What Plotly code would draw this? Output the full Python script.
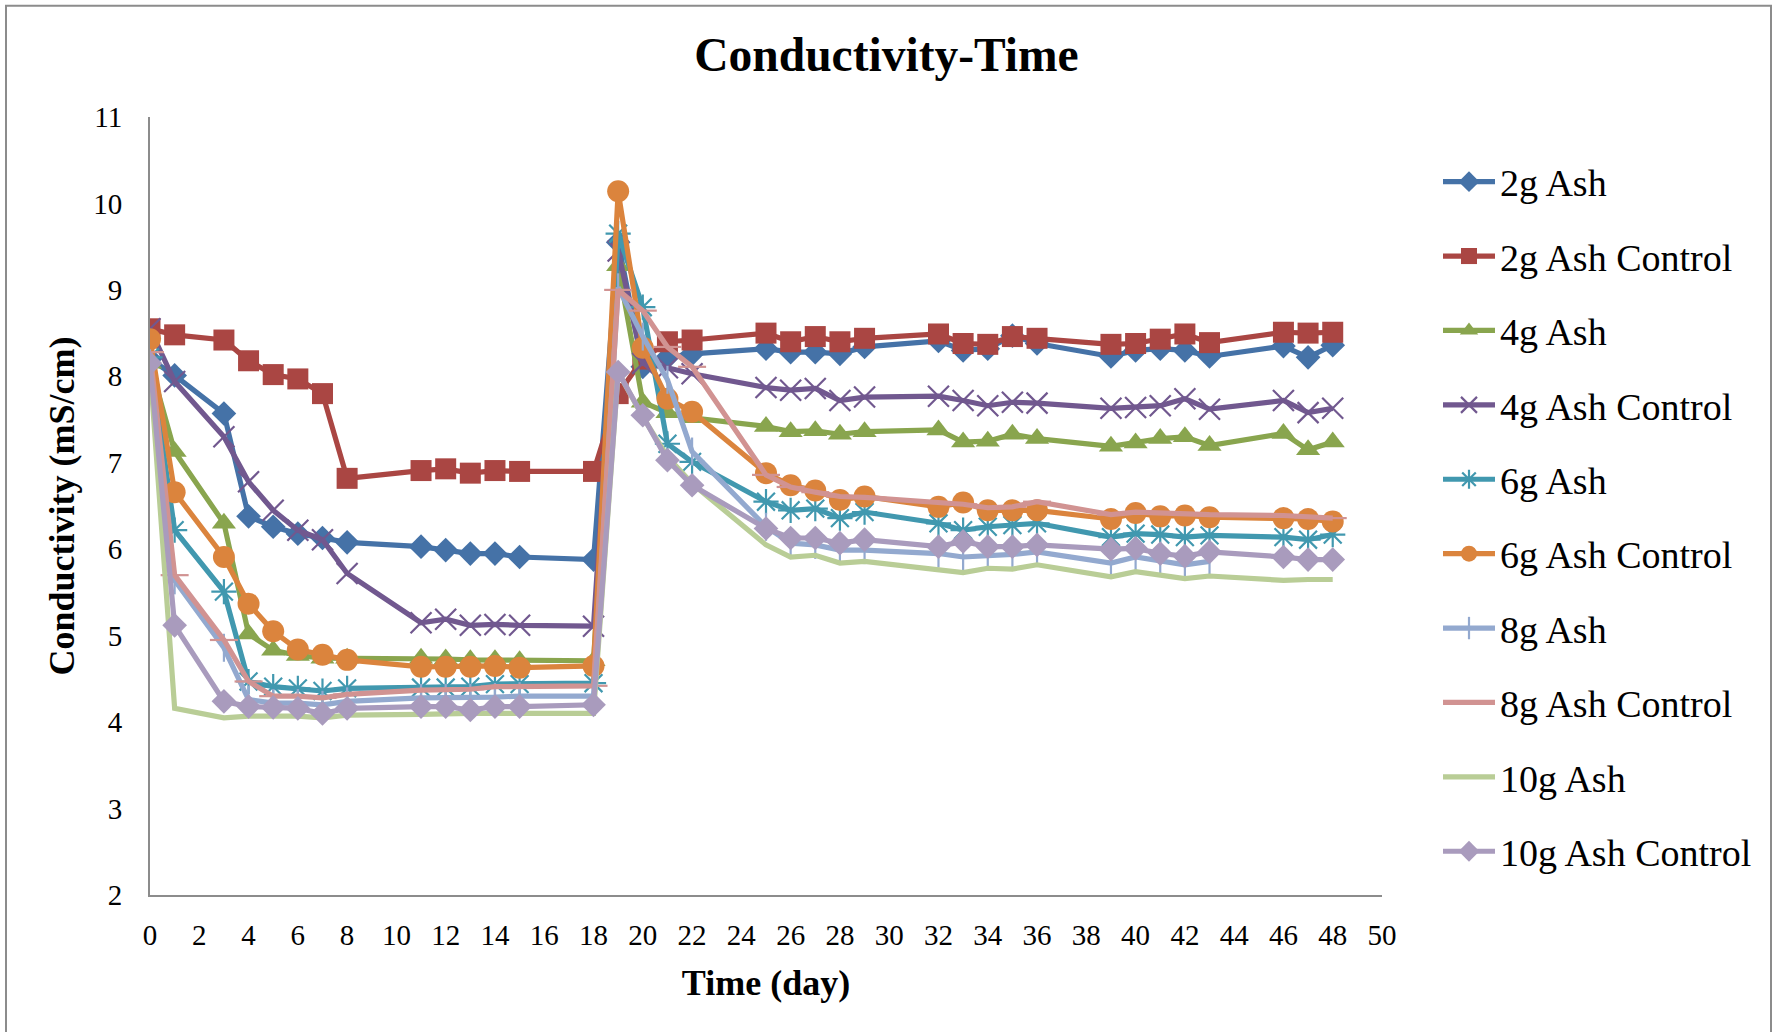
import plotly.graph_objects as go

# Sampling days (day of measurement)
days = [0, 1, 3, 4, 5, 6, 7, 8, 11, 12, 13, 14, 15, 18, 19, 20, 21, 22,
        25, 26, 27, 28, 29, 32, 33, 34, 35, 36, 39, 40, 41, 42, 43, 46, 47, 48]
days_8g_ash = days[:33]  # 8g Ash series stops at day 43

# Conductivity readings (mS/cm)
ash_2g = [8.20, 8.01, 7.57, 6.38, 6.26, 6.18, 6.13, 6.08, 6.03, 5.99, 5.95, 5.95, 5.91, 5.88,
          9.55, 8.11, 8.22, 8.26, 8.32, 8.28, 8.28, 8.26, 8.34, 8.41, 8.30, 8.32, 8.47, 8.38,
          8.23, 8.30, 8.32, 8.30, 8.23, 8.35, 8.22, 8.36]
ash_2g_control = [8.55, 8.48, 8.42, 8.18, 8.02, 7.97, 7.80, 6.82, 6.91, 6.93, 6.88, 6.91, 6.90, 6.90,
                  7.80, 8.20, 8.40, 8.42, 8.50, 8.40, 8.46, 8.40, 8.44, 8.49, 8.38, 8.37, 8.46, 8.44,
                  8.37, 8.38, 8.43, 8.49, 8.39, 8.51, 8.50, 8.51]
ash_4g = [8.15, 7.13, 6.30, 5.02, 4.83, 4.77, 4.74, 4.74, 4.74, 4.73, 4.72, 4.72, 4.71, 4.71,
          9.28, 7.70, 7.58, 7.52, 7.42, 7.36, 7.37, 7.33, 7.36, 7.38, 7.24, 7.25, 7.33, 7.28,
          7.19, 7.23, 7.28, 7.30, 7.20, 7.34, 7.15, 7.24]
ash_4g_control = [8.55, 7.94, 7.30, 6.78, 6.45, 6.22, 6.11, 5.72, 5.15, 5.19, 5.12, 5.13, 5.12, 5.11,
                  9.45, 8.15, 8.10, 8.03, 7.87, 7.84, 7.86, 7.72, 7.76, 7.77, 7.72, 7.66, 7.70, 7.69,
                  7.63, 7.64, 7.66, 7.74, 7.62, 7.72, 7.58, 7.63]
ash_6g = [8.22, 6.22, 5.51, 4.47, 4.41, 4.39, 4.36, 4.39, 4.40, 4.40, 4.41, 4.44, 4.44, 4.45,
          9.65, 8.80, 7.22, 7.01, 6.55, 6.45, 6.47, 6.36, 6.43, 6.30, 6.22, 6.26, 6.28, 6.30,
          6.14, 6.18, 6.17, 6.14, 6.16, 6.14, 6.11, 6.17]
ash_6g_control = [8.43, 6.66, 5.91, 5.37, 5.05, 4.84, 4.78, 4.72, 4.64, 4.64, 4.64, 4.65, 4.63, 4.65,
                  10.14, 8.33, 7.74, 7.59, 6.88, 6.74, 6.68, 6.57, 6.61, 6.49, 6.54, 6.45, 6.45, 6.45,
                  6.35, 6.42, 6.38, 6.39, 6.37, 6.36, 6.35, 6.32]
ash_8g = [8.15, 5.64, 4.86, 4.26, 4.22, 4.22, 4.20, 4.24, 4.28, 4.28, 4.28, 4.29, 4.30, 4.30,
          9.03, 8.46, 7.96, 7.13, 6.26, 6.07, 6.05, 5.99, 5.99, 5.95, 5.91, 5.92, 5.94, 5.97,
          5.84, 5.91, 5.86, 5.82, 5.86]
ash_8g_control = [8.28, 5.70, 4.95, 4.47, 4.30, 4.30, 4.28, 4.32, 4.37, 4.37, 4.38, 4.41, 4.41, 4.42,
                  9.00, 8.76, 8.34, 8.11, 6.86, 6.72, 6.66, 6.61, 6.60, 6.54, 6.52, 6.48, 6.49, 6.55,
                  6.40, 6.43, 6.42, 6.41, 6.40, 6.39, 6.37, 6.36]
ash_10g = [8.10, 4.16, 4.05, 4.07, 4.07, 4.07, 4.05, 4.08, 4.09, 4.10, 4.10, 4.10, 4.10, 4.10,
           8.05, 7.53, 7.07, 6.76, 6.05, 5.91, 5.93, 5.84, 5.86, 5.77, 5.73, 5.78, 5.77, 5.82,
           5.68, 5.74, 5.70, 5.66, 5.69, 5.64, 5.65, 5.65]
ash_10g_control = [8.15, 5.12, 4.24, 4.18, 4.17, 4.16, 4.10, 4.16, 4.18, 4.18, 4.14, 4.18, 4.18, 4.20,
                   8.05, 7.55, 7.03, 6.74, 6.24, 6.13, 6.13, 6.07, 6.11, 6.03, 6.09, 6.03, 6.03, 6.05,
                   6.00, 6.01, 5.95, 5.92, 5.97, 5.91, 5.88, 5.88]

x_ticks = list(range(0, 51, 2))
y_ticks = list(range(2, 12))

FONT = "Liberation Serif, Times New Roman, serif"

# name, x, y, colour, marker symbol, marker size, marker outline width
series = [
    ("2g Ash", days, ash_2g, "#4572A7", "diamond", 19, 0),
    ("2g Ash Control", days, ash_2g_control, "#AA4643", "square", 21, 0),
    ("4g Ash", days, ash_4g, "#89A54E", "triangle-up", 21, 0),
    ("4g Ash Control", days, ash_4g_control, "#71588F", "x-thin-open", 21, 2.2),
    ("6g Ash", days, ash_6g, "#4198AF", "asterisk-open", 21, 2.2),
    ("6g Ash Control", days, ash_6g_control, "#DB843D", "circle", 22, 0),
    ("8g Ash", days_8g_ash, ash_8g, "#93A9CF", "line-ns-open", 20, 2.2),
    ("8g Ash Control", days, ash_8g_control, "#D19392", "line-ew-open", 20, 2.2),
    ("10g Ash", days, ash_10g, "#B9CD96", None, 0, 0),
    ("10g Ash Control", days, ash_10g_control, "#A99BBD", "diamond", 19, 0),
]

fig = go.Figure()
for name, xs, ys, color, symbol, size, lw in series:
    if symbol is None:
        mode = "lines"
        marker = dict()
    else:
        mode = "lines+markers"
        marker = dict(symbol=symbol, size=size, color=color,
                      line=dict(color=color, width=lw))
    fig.add_trace(go.Scatter(
        x=xs, y=ys, name=name, mode=mode,
        line=dict(color=color, width=5.2),
        marker=marker, legendgroup=name,
    ))

W, H = 1773, 1032
L, R, T, B = 150, 391, 116.5, 136.5
pw, ph = W - L - R, H - T - B

fig.update_layout(
    width=W, height=H,
    margin=dict(l=L, r=R, t=T, b=B),
    paper_bgcolor="white", plot_bgcolor="white",
    font=dict(family=FONT, color="black"),
    title=dict(text="<b>Conductivity-Time</b>", x=0.5, xref="container",
               y=1 - 54 / H, yref="container", yanchor="middle",
               font=dict(family=FONT, size=47.5, color="black")),
    xaxis=dict(range=[0, 50], tickvals=x_ticks, showgrid=False, zeroline=False,
               showline=True, linecolor="#8c8c8c", linewidth=2, ticks="",
               ticklabelstandoff=13,
               tickfont=dict(family=FONT, size=29, color="black"),
               title=dict(text="<b>Time (day)</b>", standoff=20,
                          font=dict(family=FONT, size=36, color="black"))),
    yaxis=dict(range=[2, 11], tickvals=y_ticks, showgrid=False, zeroline=False,
               showline=True, linecolor="#8c8c8c", linewidth=2, ticks="",
               ticklabelstandoff=20,
               tickfont=dict(family=FONT, size=29, color="black"),
               title=dict(text="<b>Conductivity (mS/cm)</b>", standoff=8,
                          font=dict(family=FONT, size=36, color="black"))),
    legend=dict(x=(1438 - L) / pw, xanchor="left", y=(H - B - 150) / ph, yanchor="top",
                font=dict(family=FONT, size=38, color="black"),
                tracegroupgap=22, itemwidth=52, bgcolor="rgba(0,0,0,0)",
                traceorder="grouped"),
    showlegend=True,
)

# Chart frame
fig.add_shape(type="rect", xref="paper", yref="paper",
              x0=(6 - L) / pw, x1=(1771 - L) / pw,
              y0=(H - B - 1045) / ph, y1=(H - B - 5) / ph,
              line=dict(color="#8c8c8c", width=2), fillcolor="rgba(0,0,0,0)", layer="below")

fig.write_html("out.html")
